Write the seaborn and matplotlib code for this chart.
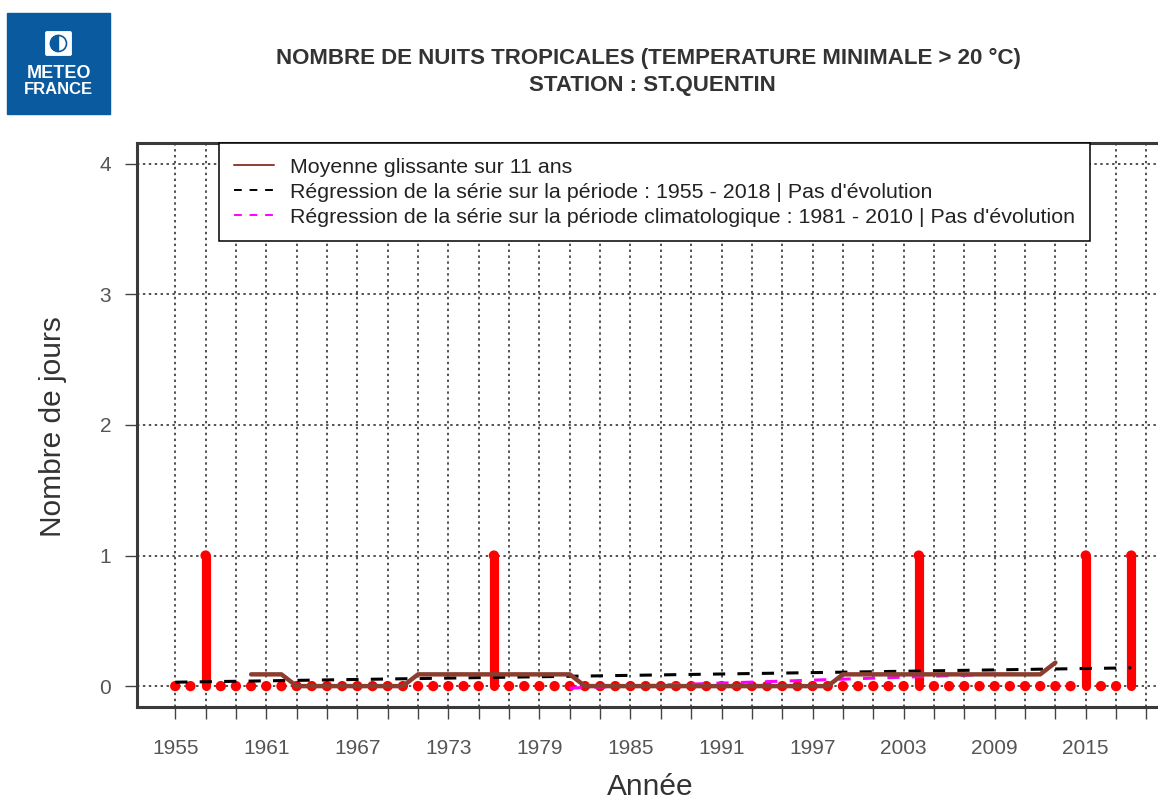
import matplotlib
matplotlib.use("Agg")
from matplotlib import pyplot as plt
from matplotlib.lines import Line2D
from matplotlib.patches import Rectangle, FancyBboxPatch, Circle, Wedge
import seaborn as sns

# donnees
years = list(range(1955, 2019))
nights = [0, 0, 1, 0, 0, 0, 0, 0, 0, 0,   # 1955-1964
          0, 0, 0, 0, 0, 0, 0, 0, 0, 0,   # 1965-1974
          0, 1, 0, 0, 0, 0, 0, 0, 0, 0,   # 1975-1984
          0, 0, 0, 0, 0, 0, 0, 0, 0, 0,   # 1985-1994
          0, 0, 0, 0, 0, 0, 0, 0, 0, 1,   # 1995-2004
          0, 0, 0, 0, 0, 0, 0, 0, 0, 0,   # 2005-2014
          1, 0, 0, 1]                     # 2015-2018

mean_years = list(range(1960, 2014))
mean_values = [0.09, 0.09, 0.09,
               0, 0, 0, 0, 0, 0, 0, 0,
               0.09, 0.09, 0.09, 0.09, 0.09, 0.09, 0.09, 0.09, 0.09, 0.09, 0.09,
               0, 0, 0, 0, 0, 0, 0, 0, 0, 0, 0, 0, 0, 0, 0, 0, 0,
               0.09, 0.09, 0.09, 0.09, 0.09, 0.09, 0.09, 0.09, 0.09, 0.09, 0.09, 0.09, 0.09, 0.09,
               0.18]

reg_years = [1955, 2018]
reg_values = [0.03, 0.14]
clim_years = [1981, 2010]
clim_values = [-0.015, 0.095]

labels = ["Moyenne glissante sur 11 ans",
          "Régression de la série sur la période : 1955 - 2018 | Pas d'évolution",
          "Régression de la série sur la période climatologique : 1981 - 2010 | Pas d'évolution"]

brown = "#8B3E2F"
grey_txt = "#555555"
dark_txt = "#333333"

sns.set_style("white")
plt.rcParams['font.family'] = ['Liberation Sans', 'DejaVu Sans']

fig = plt.figure(figsize=(11.58, 8.01), dpi=100)
ax = fig.add_axes([137 / 1158, 94 / 801, 1032.5 / 1158, 564 / 801])

# barres verticales (type "h") + points
bar_years = [y for y, v in zip(years, nights) if v > 0]
bar_vals = [v for v in nights if v > 0]
ax.vlines(bar_years, 0, bar_vals, colors="red", lw=6.6, capstyle="round", zorder=2)
sns.scatterplot(x=years, y=nights, ax=ax, color="red", s=55, edgecolor="none",
                zorder=3, legend=False)

sns.lineplot(x=reg_years, y=reg_values, ax=ax, color="black", lw=2.2,
             linestyle=(0, (4, 4)), zorder=4)
sns.lineplot(x=clim_years, y=clim_values, ax=ax, color="magenta", lw=2.2,
             linestyle=(0, (4, 4)), zorder=4)
sns.lineplot(x=mean_years, y=mean_values, ax=ax, color=brown, lw=3.2, zorder=5)

ax.set_xlim(1952.48, 2020.52)
ax.set_ylim(-0.16, 4.16)

xt = list(range(1955, 2020, 2))
ax.set_xticks(xt)
ax.set_xticklabels([str(t) if (t - 1955) % 6 == 0 else "" for t in xt])
ax.set_yticks([0, 1, 2, 3, 4])
ax.set_yticklabels(["0", "1", "2", "3", "4"])

ax.grid(True, linestyle=(0, (1.5, 2.2)), color="#2a2a2a", lw=1.15)
ax.set_axisbelow(True)

ax.tick_params(axis="both", direction="out", length=8.6, width=1.0, color="#444444",
               labelsize=15, labelcolor=grey_txt, bottom=True, left=True)
ax.tick_params(axis="x", pad=14.5)
ax.tick_params(axis="y", pad=10)

for side in ["left", "bottom", "top", "right"]:
    ax.spines[side].set_visible(True)
    ax.spines[side].set_linewidth(2.2)
    ax.spines[side].set_color("#3a3a3a")

ax.set_xlabel("Année", fontsize=21.5, color=dark_txt, va="center")
ax.xaxis.set_label_coords(0.497, -0.142)
ax.set_ylabel("Nombre de jours", fontsize=21.5, color=dark_txt, va="center")
ax.yaxis.set_label_coords(-0.081, 0.498)

handles = [Line2D([], [], color=brown, lw=1.4),
           Line2D([], [], color="black", lw=1.4, linestyle=(0, (4, 4))),
           Line2D([], [], color="magenta", lw=1.4, linestyle=(0, (4, 4)))]
leg = ax.legend(handles, labels, loc="upper left", bbox_to_anchor=(0.0794, 1.0),
                borderaxespad=0, fontsize=15.4, frameon=True, fancybox=False,
                framealpha=1, edgecolor="black", handlelength=1.9,
                handletextpad=0.75, labelspacing=0.29, borderpad=0.68)
leg.get_frame().set_linewidth(1.1)
for t in leg.get_texts():
    t.set_color("#222222")

# titre
fig.text(648 / 1158, 1 - 58 / 801, "NOMBRE DE NUITS TROPICALES (TEMPERATURE MINIMALE > 20 °C)",
         ha="center", va="center", fontsize=16, fontweight="bold", color=dark_txt)
fig.text(652 / 1158, 1 - 85 / 801, "STATION : ST.QUENTIN",
         ha="center", va="center", fontsize=16, fontweight="bold", color=dark_txt)

# logo
lax = fig.add_axes([0, 0, 1, 1], zorder=10)
lax.set_xlim(0, 1158)
lax.set_ylim(801, 0)
lax.axis("off")
blue = "#0a5aa0"
lax.add_patch(Rectangle((7, 13), 103, 101, color=blue))
lax.add_patch(FancyBboxPatch((47, 33), 23, 21, boxstyle="round,pad=1.2", color="white"))
lax.add_patch(Circle((58.5, 43.5), 8, fill=False, edgecolor=blue, lw=1.2))
lax.add_patch(Wedge((58.5, 43.5), 8, 90, 270, color=blue))
lax.text(58.5, 74, "METEO", ha="center", va="center", fontsize=13,
         fontweight="bold", color="white")
lax.text(58.5, 89, "FRANCE", ha="center", va="center", fontsize=12,
         fontweight="bold", color="white")

fig.savefig("out.png", dpi=100)
